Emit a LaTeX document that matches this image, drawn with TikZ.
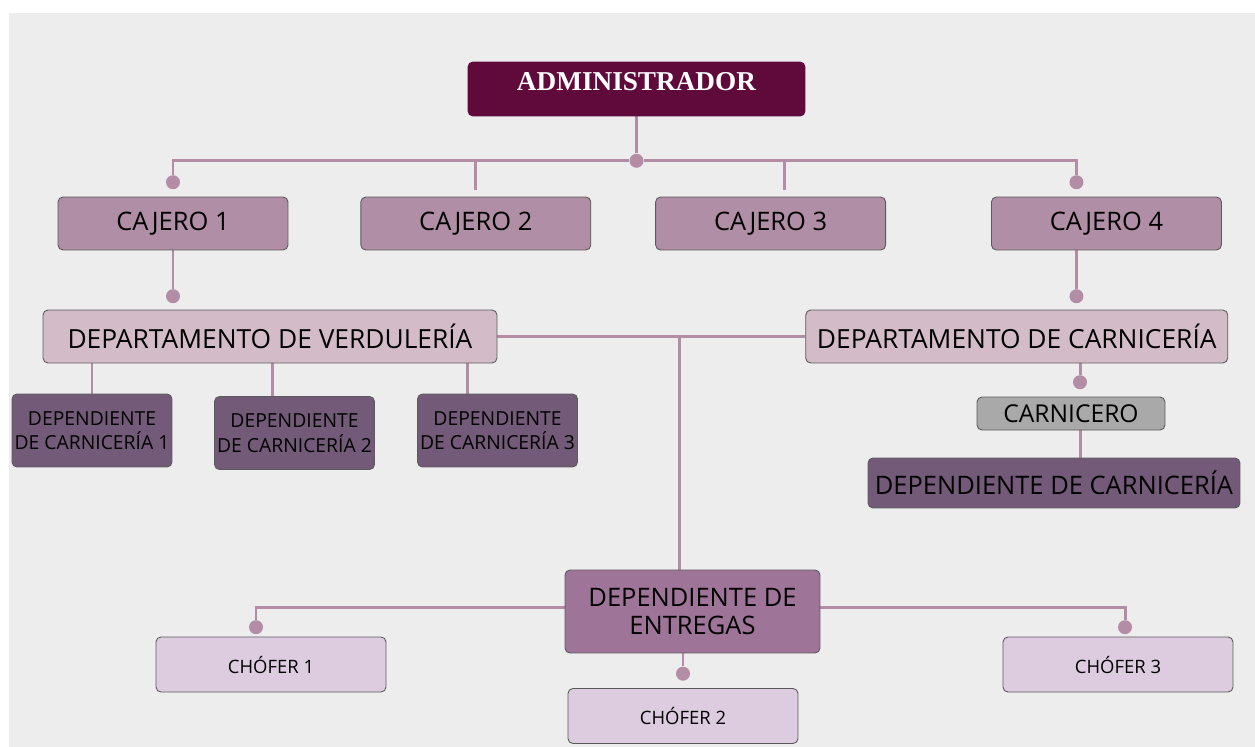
\documentclass[tikz,border=0pt]{standalone}
\usepackage{fontspec}
\setmainfont{Open Sans}
\newfontfamily\titlefont{Liberation Serif}
\usepackage{xcolor}
\usepackage{tikz}
\usetikzlibrary{positioning,calc}
\pgfdeclarelayer{bg}
\pgfsetlayers{bg,main}

\definecolor{paper}{HTML}{EDEDED}
\definecolor{wine}{HTML}{600A3C}
\definecolor{cajerofill}{HTML}{B08EA5}
\definecolor{deptfill}{HTML}{D3BCC8}
\definecolor{depfill}{HTML}{735A78}
\definecolor{carnfill}{HTML}{A9A9A9}
\definecolor{entfill}{HTML}{9E7599}
\definecolor{choferfill}{HTML}{DDCCE0}
\definecolor{linkcol}{HTML}{B38DA6}
\definecolor{edgecol}{HTML}{5A5A5A}

\begin{document}
\begin{tikzpicture}[x=0.02cm,y=-0.02cm,
	base node/.style={rectangle,rounded corners=2.8pt,draw=edgecol,line width=0.5pt,
		text=black,align=center,inner sep=0pt},
	admin node/.style={base node,fill=wine,draw=wine,text=white,
		minimum width=6.74cm,minimum height=1.08cm,font=\titlefont\bfseries\fontsize{15.5}{17}\selectfont},
	cajero node/.style={base node,fill=cajerofill,minimum width=4.6cm,minimum height=1.06cm,
		font=\fontsize{14.5}{16}\selectfont},
	dept node/.style={base node,fill=deptfill,minimum height=1.06cm,font=\fontsize{15}{17}\selectfont},
	dep node/.style={base node,fill=depfill,minimum width=3.2cm,minimum height=1.46cm,
		font=\fontsize{11}{14}\selectfont},
	chofer node/.style={base node,fill=choferfill,minimum width=4.6cm,minimum height=1.1cm,
		font=\fontsize{10.5}{12}\selectfont},
	link/.style={draw=linkcol,line width=1.7pt},
	dot/.style={circle,fill=linkcol,inner sep=0pt,minimum size=0.28cm}]

	% paper
	\begin{pgfonlayer}{bg}
		\fill[white] (0,0) rectangle (1255,747);
		\fill[paper] (9,13) rectangle (1255,747);
	\end{pgfonlayer}
	\useasboundingbox (0,0) rectangle (1255,747);

	\node[admin node] (adm) at (636.5,89) {\raisebox{8pt}{ADMINISTRADOR}};

	\node[cajero node] (c1) at (173,223.5) {CAJERO 1};
	\node[cajero node] (c2) [right = 1.44cm of c1] {CAJERO 2};
	\node[cajero node] (c3) [right = 1.28cm of c2] {CAJERO 3};
	\node[cajero node] (c4) [right = 2.1cm of c3] {CAJERO 4};

	\node[dept node,minimum width=9.08cm] (verd) at (270,336.5) {DEPARTAMENTO DE VERDULERÍA};
	\node[dept node,minimum width=8.44cm] (carn) [right = 6.16cm of verd] {DEPARTAMENTO DE CARNICERÍA};

	\node[dep node] (dep1) at (92,430.5) {DEPENDIENTE\\DE CARNICERÍA 1};
	\node[dep node] (dep2) at (294.5,433) {DEPENDIENTE\\DE CARNICERÍA 2};
	\node[dep node] (dep3) at (497.5,430.5) {DEPENDIENTE\\DE CARNICERÍA 3};

	\node[base node,fill=carnfill,minimum width=3.76cm,minimum height=0.66cm,
		font=\fontsize{14}{16}\selectfont] (carnicero) at (1071,413.5) {CARNICERO};
	\node[base node,fill=depfill,minimum width=7.44cm,minimum height=1cm,
		font=\fontsize{14.5}{16}\selectfont] (depc) at (1054,483) {DEPENDIENTE DE CARNICERÍA};

	\node[base node,fill=entfill,minimum width=5.1cm,minimum height=1.66cm,
		font=\fontsize{14.5}{16}\selectfont] (ent) at (692.5,611.5) {DEPENDIENTE DE\\ENTREGAS};

	\node[chofer node] (ch1) at (271,664.5) {CHÓFER 1};
	\node[chofer node] (ch2) at (683,716) {CHÓFER 2};
	\node[chofer node] (ch3) at (1118,664.5) {CHÓFER 3};

	% dots
	\node[dot] (hub) [below = 0.74cm of adm] {};
	\node[dot] (dc1) [above = 0.14cm of c1] {};
	\node[dot] (dc4) [above = 0.14cm of c4, xshift=-0.6cm] {};
	\coordinate (vtop) at (verd.north -| c1);
	\node[dot] (dv) [above = 0.12cm of vtop] {};
	\coordinate (ktop) at (carn.north -| dc4);
	\node[dot] (dk) [above = 0.12cm of ktop] {};
	\coordinate[xshift=0.18cm] (kx) at (carnicero.north);
	\node[dot] (dk2) [above = 0.14cm of kx] {};
	\coordinate[xshift=-0.3cm] (h1) at (ch1.north);
	\node[dot] (dh1) [above = 0.04cm of h1] {};
	\coordinate[xshift=0.14cm] (h3) at (ch3.north);
	\node[dot] (dh3) [above = 0.04cm of h3] {};
	\node[dot] (dh2) [above = 0.14cm of ch2] {};

	\coordinate[yshift=0.14cm] (p2) at (c2.north);
	\coordinate[xshift=0.28cm,yshift=0.14cm] (p3) at (c3.north);
	\coordinate[xshift=-0.45cm] (q2) at (dep2.north);
	\coordinate[xshift=-0.61cm] (q3) at (dep3.north);
	\coordinate[xshift=-0.27cm] (tr) at (ent.north);

	\begin{pgfonlayer}{bg}
		\path[link]
		(adm) edge (hub)
		(p2) edge (p2 |- hub)
		(p3) edge (p3 |- hub)
		(c1) edge (dv)
		(dk) edge (dk |- c4.south)
		(verd) edge (carn)
		(tr) edge (tr |- verd.east)
		(dep1) edge (dep1 |- verd.south)
		(q2) edge (q2 |- verd.south)
		(q3) edge (q3 |- verd.south)
		(dk2) edge (dk2 |- carn.south)
		(kx |- carnicero.south) edge (kx |- depc.north)
		(dh2) edge (dh2 |- ent.south)
		;
		\draw[link] (dc1) |- (hub) -| (dc4);
		\draw[link] ([yshift=0.09cm]ent.west) -| (dh1);
		\draw[link] ([yshift=0.09cm]ent.east) -| (dh3);
	\end{pgfonlayer}

\end{tikzpicture}
\end{document}
